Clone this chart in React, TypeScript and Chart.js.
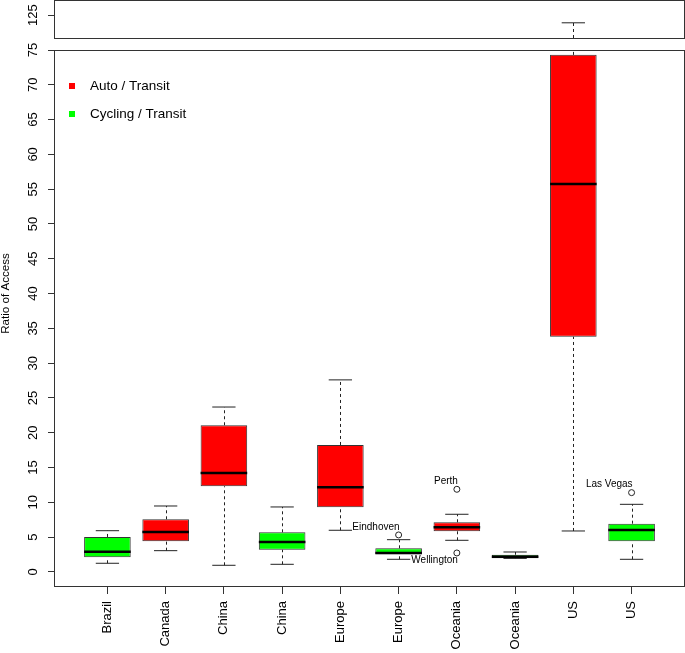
import React, { useEffect, useRef } from 'react';
import { Chart, registerables } from 'chart.js';

Chart.register(...registerables);

// ---------- data ----------
const CATEGORIES = ['Brazil', 'Canada', 'China', 'China', 'Europe', 'Europe', 'Oceania', 'Oceania', 'US', 'US'];
const GROUPS = ['cycling', 'auto', 'auto', 'cycling', 'auto', 'cycling', 'auto', 'cycling', 'auto', 'cycling'];
const LOWER_WHISKER = [1.25, 3.06, 0.96, 1.1, 5.99, 1.82, 4.55, 1.95, 5.89, 1.82];
const Q1 = [2.11, 4.41, 12.31, 3.2, 9.29, 2.54, 5.85, 1.97, 33.8, 4.41];
const MEDIAN = [2.92, 5.75, 14.22, 4.31, 12.17, 2.73, 6.42, 2.2, 55.75, 6.03];
const Q3 = [5.03, 7.57, 21.08, 5.7, 18.25, 3.4, 7.14, 2.49, 74.3, 6.94];
const UPPER_WHISKER = [5.93, 9.48, 23.7, 9.34, 27.6, 4.64, 8.29, 2.87, 122, 9.72];

const OUTLIER_POSITION = [6, 7, 7, 10];
const OUTLIER_VALUE = [5.32, 11.88, 2.73, 11.4];
const OUTLIER_LABEL = ['Eindhoven', 'Perth', 'Wellington', 'Las Vegas'];
const OUTLIER_LABEL_SIDE = ['above', 'above', 'below', 'above'];

const LEGEND_LABELS = ['Auto / Transit', 'Cycling / Transit'];
const LEGEND_GROUPS = ['auto', 'cycling'];

const MAIN_TICKS = [0, 5, 10, 15, 20, 25, 30, 35, 40, 45, 50, 55, 60, 65, 70, 75];
const TOP_TICKS = [125];
const Y_TITLE = 'Ratio of Access';

// ---------- scale limits / layout ----------
const X_MIN = 0.1;
const X_MAX = 10.9;
const MAIN_MIN = -2.16;
const MAIN_MAX = 75;
const TOP_PANEL_MIN = 116;
const TOP_PANEL_MAX = 131;
const TOP_PANEL_PX = 38; // height of the upper panel
const TOP_STACK_PX = 50; // upper panel + gap
const MAIN_STACK_PX = 537;
const TOP_SCALE_MIN = TOP_PANEL_MAX - (TOP_PANEL_MAX - TOP_PANEL_MIN) * (TOP_STACK_PX / TOP_PANEL_PX);

const COLORS: Record<string, string> = { auto: '#ff0000', cycling: '#00ff00' };
const FONT = '"Liberation Sans", Arial, Helvetica, sans-serif';
const LINE = '#222222';

const extrasPlugin = {
  id: 'boxplotExtras',
  afterDatasetsDraw(chart: any) {
    const ctx = chart.ctx;
    const xs = chart.scales.x;
    const ym = chart.scales.y;
    const yt = chart.scales.yTop;
    const meta = chart.getDatasetMeta(0);

    const segs = (a: number, b: number) => {
      const out: number[][] = [];
      const lo = Math.max(a, MAIN_MIN), hi = Math.min(b, MAIN_MAX);
      if (hi > lo) out.push([ym.getPixelForValue(lo), ym.getPixelForValue(hi)]);
      const lo2 = Math.max(a, TOP_PANEL_MIN), hi2 = Math.min(b, TOP_PANEL_MAX);
      if (hi2 > lo2) out.push([yt.getPixelForValue(lo2), yt.getPixelForValue(hi2)]);
      return out;
    };
    const toPx = (v: number) => (v <= MAIN_MAX ? ym.getPixelForValue(v) : yt.getPixelForValue(v));

    ctx.save();
    for (let i = 0; i < CATEGORIES.length; i++) {
      const el = meta.data[i];
      const x = xs.getPixelForValue(i + 1);
      const w = el ? el.width : 46;
      const cx = Math.round(x) + 0.5;
      // whiskers (dashed)
      ctx.strokeStyle = LINE;
      ctx.lineWidth = 1;
      ctx.setLineDash([3, 3]);
      const all = [...segs(LOWER_WHISKER[i], Q1[i]), ...segs(Q3[i], UPPER_WHISKER[i])];
      for (const [p0, p1] of all) {
        ctx.beginPath();
        ctx.moveTo(cx, p0);
        ctx.lineTo(cx, p1);
        ctx.stroke();
      }
      ctx.setLineDash([]);
      // caps
      for (const v of [LOWER_WHISKER[i], UPPER_WHISKER[i]]) {
        const py = toPx(v);
        ctx.beginPath();
        ctx.moveTo(x - w / 4, py);
        ctx.lineTo(x + w / 4, py);
        ctx.stroke();
      }
      // median
      const pm = toPx(MEDIAN[i]);
      ctx.strokeStyle = '#000';
      ctx.lineWidth = 2.5;
      ctx.beginPath();
      ctx.moveTo(x - w / 2, pm);
      ctx.lineTo(x + w / 2, pm);
      ctx.stroke();
    }
    ctx.restore();
  },
  afterDraw(chart: any) {
    const ctx = chart.ctx;
    const xs = chart.scales.x;
    const ym = chart.scales.y;
    const yt = chart.scales.yTop;
    const area = chart.chartArea;
    ctx.save();
    // panel borders
    ctx.strokeStyle = '#333';
    ctx.lineWidth = 1;
    const left = area.left - 0.5;
    const right = area.right + 0.5;
    const mainTop = ym.getPixelForValue(MAIN_MAX) + 0.5;
    const mainBottom = area.bottom - 0.5;
    ctx.strokeRect(left, mainTop, right - left, mainBottom - mainTop);
    const topTop = yt.getPixelForValue(TOP_PANEL_MAX) + 0.5;
    const topBottom = yt.getPixelForValue(TOP_PANEL_MIN) + 0.5;
    ctx.strokeRect(left, topTop, right - left, topBottom - topTop);

    // y tick labels (rotated, as in R)
    ctx.fillStyle = '#000';
    ctx.font = `13px ${FONT}`;
    ctx.textAlign = 'center';
    ctx.textBaseline = 'middle';
    const drawYLabels = (scale: any, ticks: number[]) => {
      for (const t of ticks) {
        const py = scale.getPixelForValue(t);
        ctx.save();
        ctx.translate(33.5, py);
        ctx.rotate(-Math.PI / 2);
        ctx.fillText(String(t), 0, 0);
        ctx.restore();
      }
    };
    drawYLabels(ym, MAIN_TICKS);
    drawYLabels(yt, TOP_TICKS);

    // y axis title
    ctx.save();
    ctx.font = `11.6px ${FONT}`;
    ctx.translate(5.5, (area.top + area.bottom) / 2);
    ctx.rotate(-Math.PI / 2);
    ctx.fillText(Y_TITLE, 0, 0);
    ctx.restore();

    // outlier labels
    ctx.font = `10px ${FONT}`;
    ctx.textAlign = 'right';
    for (let k = 0; k < OUTLIER_LABEL.length; k++) {
      const px = xs.getPixelForValue(OUTLIER_POSITION[k]);
      const py = ym.getPixelForValue(OUTLIER_VALUE[k]);
      const dy = OUTLIER_LABEL_SIDE[k] === 'above' ? -8 : 7;
      ctx.fillText(OUTLIER_LABEL[k], px + 1, py + dy);
    }

    // legend
    ctx.font = `13.5px ${FONT}`;
    ctx.textAlign = 'left';
    for (let k = 0; k < LEGEND_LABELS.length; k++) {
      const ly = mainTop + 35.5 + k * 28;
      ctx.fillStyle = COLORS[LEGEND_GROUPS[k]];
      ctx.fillRect(area.left + 14, ly - 3, 6, 6);
      ctx.fillStyle = '#000';
      ctx.fillText(LEGEND_LABELS[k], area.left + 35, ly);
    }
    ctx.restore();
  },
};

export default function App() {
  const canvasRef = useRef<HTMLCanvasElement | null>(null);

  useEffect(() => {
    const canvas = canvasRef.current;
    if (!canvas) return;
    const chart = new Chart(canvas, {
      type: 'bar',
      data: {
        datasets: [
          {
            type: 'bar',
            label: 'boxes',
            data: CATEGORIES.map((_, i) => ({ x: i + 1, y: [Q1[i], Q3[i]] })) as any,
            backgroundColor: GROUPS.map((g) => COLORS[g]),
            borderColor: '#333',
            borderWidth: 1,
            borderSkipped: false,
            barPercentage: 1,
            categoryPercentage: 0.8,
            xAxisID: 'x',
            yAxisID: 'y',
          } as any,
          {
            type: 'scatter',
            label: 'outliers',
            data: OUTLIER_POSITION.map((p, k) => ({ x: p, y: OUTLIER_VALUE[k] })),
            pointStyle: 'circle',
            pointRadius: 3,
            pointBorderWidth: 1,
            pointBorderColor: '#222',
            pointBackgroundColor: 'rgba(0,0,0,0)',
            xAxisID: 'x',
            yAxisID: 'y',
          } as any,
        ],
      },
      options: {
        animation: false,
        responsive: false,
        devicePixelRatio: 1,
        layout: { autoPadding: false, padding: { top: 0, right: 1, bottom: 0, left: 0 } },
        plugins: {
          legend: { display: false },
          tooltip: { enabled: false },
          title: { display: false },
        },
        scales: {
          x: {
            type: 'linear',
            position: 'bottom',
            min: X_MIN,
            max: X_MAX,
            offset: false,
            afterBuildTicks: (scale: any) => {
              scale.ticks = CATEGORIES.map((_, i) => ({ value: i + 1 }));
            },
            afterFit: (scale: any) => {
              scale.height = 66;
            },
            grid: { drawOnChartArea: false, drawTicks: true, tickLength: 7, color: '#333', offset: false },
            border: { display: false },
            ticks: {
              autoSkip: false,
              minRotation: 90,
              maxRotation: 90,
              padding: 7,
              color: '#000',
              font: { family: FONT, size: 13 },
              callback: (v: any) => CATEGORIES[Math.round(Number(v)) - 1] ?? '',
            },
          },
          y: {
            type: 'linear',
            position: 'left',
            stack: 'panels',
            stackWeight: MAIN_STACK_PX,
            weight: 0,
            min: MAIN_MIN,
            max: MAIN_MAX,
            afterBuildTicks: (scale: any) => {
              scale.ticks = MAIN_TICKS.map((v) => ({ value: v }));
            },
            afterFit: (scale: any) => {
              scale.width = 55;
            },
            grid: { drawOnChartArea: false, drawTicks: true, tickLength: 7, color: '#333' },
            border: { display: false },
            ticks: { display: false },
          },
          yTop: {
            type: 'linear',
            position: 'left',
            stack: 'panels',
            stackWeight: TOP_STACK_PX,
            weight: 1,
            min: TOP_SCALE_MIN,
            max: TOP_PANEL_MAX,
            afterBuildTicks: (scale: any) => {
              scale.ticks = TOP_TICKS.map((v) => ({ value: v }));
            },
            afterFit: (scale: any) => {
              scale.width = 55;
            },
            grid: { drawOnChartArea: false, drawTicks: true, tickLength: 7, color: '#333' },
            border: { display: false },
            ticks: { display: false },
          },
        },
      } as any,
      plugins: [extrasPlugin],
    });
    return () => chart.destroy();
  }, []);

  return (
    <div style={{ position: 'fixed', left: 0, top: 0, width: 685, height: 653, background: '#fff' }}>
      <canvas ref={canvasRef} width={685} height={653} style={{ width: 685, height: 653, display: 'block' }} />
    </div>
  );
}
